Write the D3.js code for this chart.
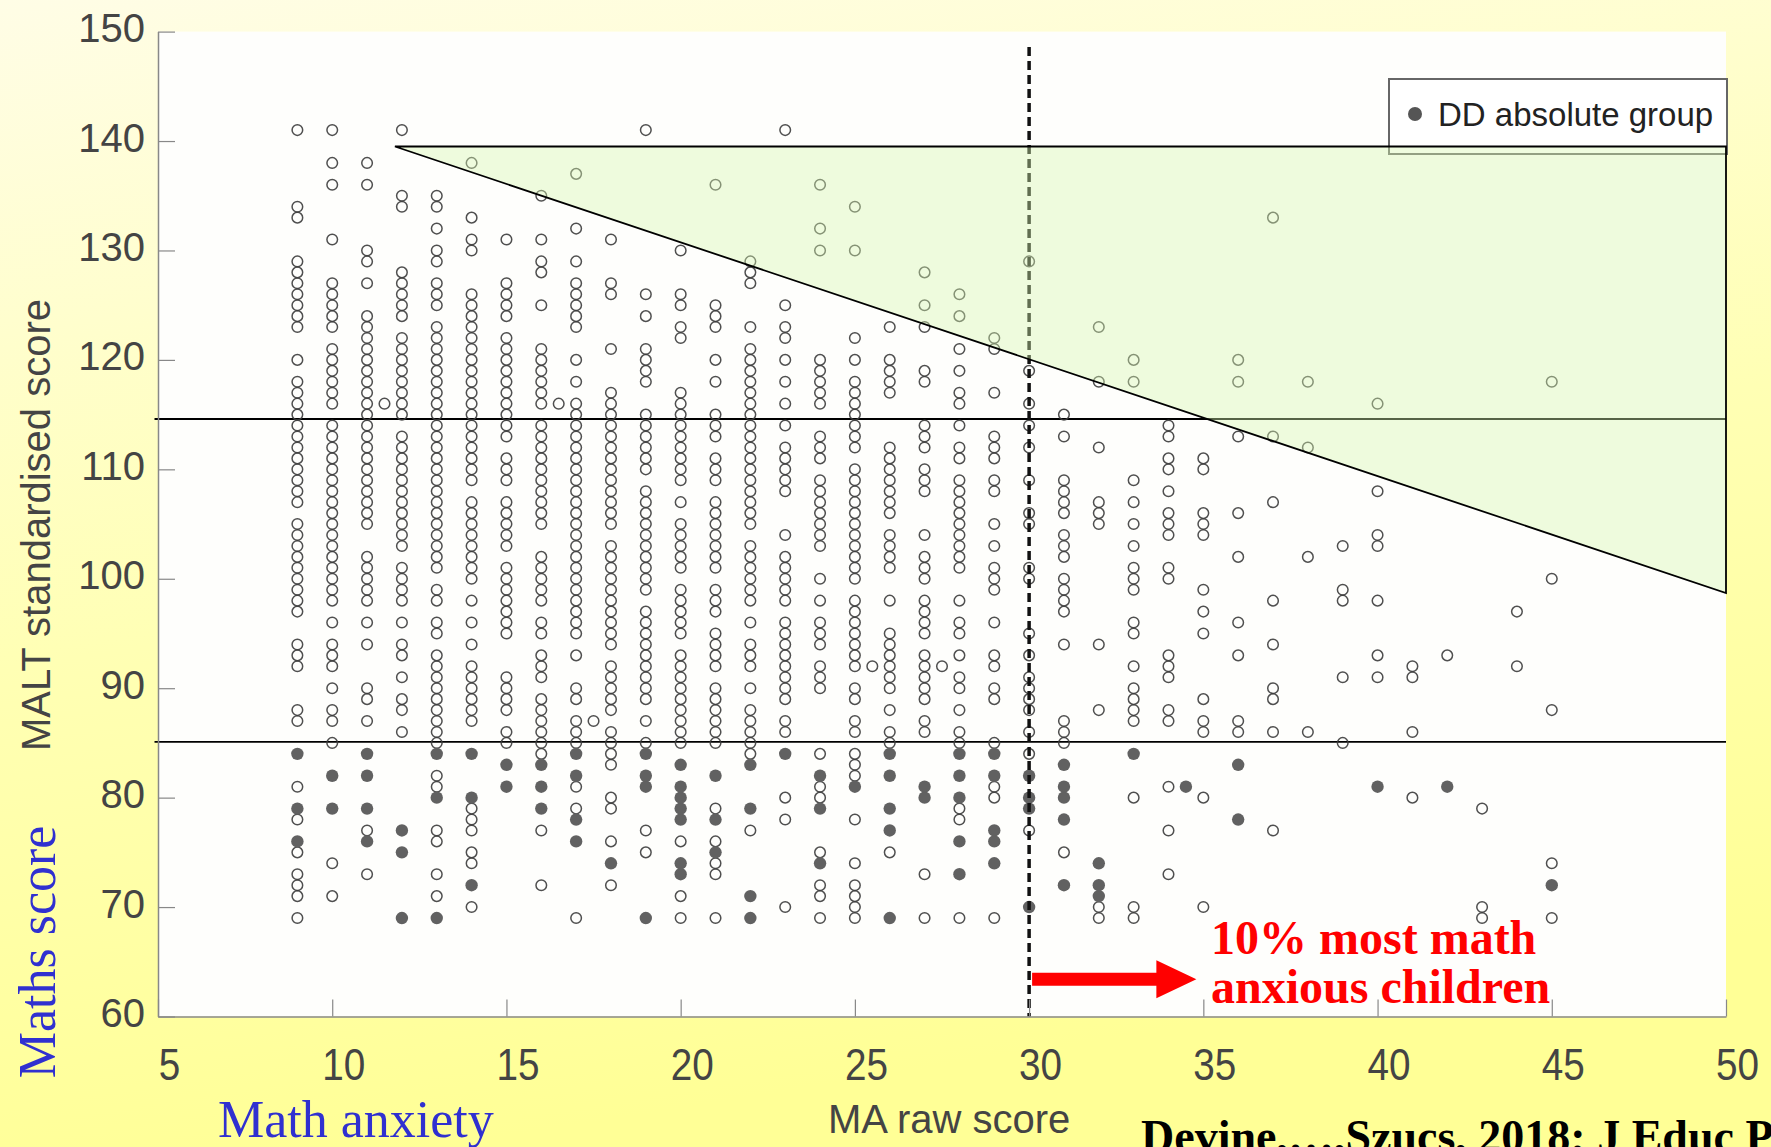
<!DOCTYPE html>
<html>
<head>
<meta charset="utf-8">
<title>Math anxiety vs MALT score</title>
<script src="https://cdn.jsdelivr.net/npm/d3@7/dist/d3.min.js"></script>
<style>
  body { margin: 0; background: #ffff99; }
  svg { display: block; }
</style>
</head>
<body>
<svg width="1771" height="1147"></svg>
<script>
// MA raw score columns
var maScores = [9,10,11,12,13,14,15,16,17,18,19,20,21,22,23,24,25,26,27,28,29,30,31,32,33,34,35,36,37,38,39,40,41,42,43,44,45];

// open circles: every child, one list of MALT scores per MA column
var openScores = [
  [69,71,72,73,75,78,81,87,88,92,93,94,97,98,99,100,101,102,103,104,105,107,108,109,110,111,112,113,114,115,116,117,118,120,123,124,125,126,127,128,129,133,134,141],
  [71,74,85,87,88,90,92,93,94,96,98,99,100,101,102,103,104,105,106,107,108,109,110,111,112,113,114,116,117,118,119,120,121,123,124,125,126,127,131,136,138,141],
  [73,77,87,89,90,94,96,98,99,100,101,102,105,106,107,108,109,110,111,112,113,114,115,116,117,118,119,120,121,122,123,124,127,129,130,136,138],
  [86,88,89,91,93,94,96,98,99,100,101,103,104,105,106,107,108,109,110,111,112,113,115,116,117,118,119,120,121,122,124,125,126,127,128,134,135,141],
  [71,73,76,77,81,82,85,86,87,88,89,90,91,92,93,95,96,98,99,101,102,103,104,105,106,107,108,109,110,111,112,113,114,115,116,117,118,119,120,121,122,123,125,126,127,129,130,132,134,135],
  [70,74,75,77,78,79,87,88,89,90,91,92,94,96,98,100,101,102,103,104,105,106,107,109,110,111,112,113,114,115,116,117,118,119,120,121,122,123,124,125,126,130,131,133,138],
  [85,86,88,89,90,91,95,96,97,98,99,100,101,103,104,105,106,107,109,110,111,113,114,115,116,117,118,119,120,121,122,124,125,126,127,131],
  [72,77,84,85,86,87,88,89,91,92,93,95,96,98,99,100,101,102,105,106,107,108,109,110,111,112,113,114,116,117,118,119,120,121,125,128,129,131,135],
  [69,79,81,85,86,87,89,90,93,95,96,97,98,99,100,101,102,103,104,105,106,107,108,109,110,111,112,113,114,115,116,118,120,123,124,125,126,127,129,132,137],
  [72,76,79,80,83,84,85,86,88,89,90,91,92,94,95,96,97,98,99,100,101,102,103,105,106,107,108,109,110,111,112,113,114,115,116,117,121,126,127,131],
  [75,77,85,87,89,90,91,92,93,94,95,96,97,99,100,101,102,103,104,105,106,107,108,110,111,112,113,114,115,118,119,120,121,124,126,141],
  [69,71,76,85,86,87,88,89,90,91,92,93,95,96,97,98,99,101,102,103,104,105,107,109,110,111,112,113,114,115,116,117,122,123,125,126,130],
  [69,73,74,76,79,85,86,87,88,89,90,92,93,94,95,97,98,99,101,102,103,104,105,106,107,109,110,111,113,114,115,118,120,123,124,125,136],
  [77,84,85,86,87,88,90,92,93,94,96,98,99,100,101,102,103,105,106,107,108,109,110,111,112,113,114,115,116,117,118,119,120,121,123,127,128,129],
  [70,78,80,86,87,89,90,91,92,93,94,95,96,98,99,100,101,102,104,108,109,110,111,112,114,116,118,120,122,123,125,141],
  [69,71,72,75,80,81,84,90,91,92,94,95,96,98,100,103,104,105,106,107,108,109,111,112,113,116,117,118,119,120,130,132,136],
  [69,70,71,72,74,78,82,83,84,86,87,89,90,92,93,94,95,96,97,98,100,101,102,103,104,105,106,107,108,109,110,112,113,114,115,116,117,118,120,122,130,134],
  [75,85,86,88,90,91,92,93,94,95,98,101,102,103,104,106,107,108,109,110,111,112,117,118,119,120,123],
  [69,73,86,87,89,90,91,92,93,95,96,97,98,100,101,102,104,108,109,110,112,113,114,118,119,123,125,128],
  [69,78,79,85,86,88,90,91,93,95,96,98,101,102,103,104,105,106,107,108,109,111,112,114,116,117,119,121,124,126],
  [69,80,81,85,89,90,92,93,96,99,100,101,103,105,108,109,111,112,113,117,121,122],
  [77,84,86,88,89,90,91,93,95,100,101,105,106,109,112,114,116,119,129],
  [75,85,86,87,94,97,98,99,100,102,103,104,106,107,108,109,113,115],
  [69,70,88,94,105,106,107,112,118,123],
  [69,70,80,87,88,89,90,92,95,96,99,100,101,103,105,107,109,118,120],
  [73,77,81,87,88,91,92,93,100,101,104,105,106,108,110,111,113,114],
  [70,80,86,87,89,95,97,99,104,105,106,110,111],
  [86,87,93,96,102,106,113,118,120],
  [77,86,89,90,94,98,107,113,133],
  [86,102,112,118],
  [85,91,98,99,103],
  [91,93,98,103,104,108,116],
  [80,86,91,92],
  [93],
  [69,70,79],
  [92,97],
  [69,74,88,100,118]
];

// filled circles: DD absolute group
var ddScores = [
  [76,79,84],[79,82],[76,79,82,84],[69,75,77],[69,80,84],[72,80,84],[81,83],[79,81,83],[76,78,82,84],
  [74],[69,81,82,84],[73,74,78,79,80,81,83],[75,78,82],[69,71,79,83],[84],[74,79,82],[81],[69,77,79,82,84],
  [80,81],[73,76,80,82,84],[74,76,77,82,84],[70,79,80,82],[72,78,80,81,83],[71,72,74],[84],[],[],
  [78,83],[],[],[],[81],[],[81],[],[],[72]
];

// the few children sitting on half-point MA scores
var halfOpen = [[11.5,116],[16.5,116],[17.5,87],[25.5,92],[27.5,92]];
var halfDD = [[34.5,81]];

// reference lines
var lowCut = 85.1, highCut = 114.6, topCut = 139.5;
var diagFrom = [11.8, 139.5], diagTo = [50, 98.7];
var maCut = 30, maCutTop = 148.6;

var xTicks = [5,10,15,20,25,30,35,40,45,50];
var yTicks = [60,70,80,90,100,110,120,130,140,150];

var svg = d3.select("svg");

var x = d3.scaleLinear().domain([5, 50]).range([158, 1726]);
var y = d3.scaleLinear().domain([60, 150]).range([1016.5, 31.6]);

//background gradient
var defs = svg.append("defs");
var grad = defs.append("linearGradient").attr("id", "bg")
    .attr("x1", 0).attr("y1", 0).attr("x2", 0.25).attr("y2", 1);
grad.append("stop").attr("offset", "0%").attr("stop-color", "#fffde6");
grad.append("stop").attr("offset", "55%").attr("stop-color", "#ffffb4");
grad.append("stop").attr("offset", "100%").attr("stop-color", "#ffff96");

svg.append("rect").attr("width", 1771).attr("height", 1147).attr("fill", "url(#bg)");

//plot area
svg.append("rect")
    .attr("x", x(5)).attr("y", y(150))
    .attr("width", x(50) - x(5)).attr("height", y(60) - y(150))
    .attr("fill", "#fefefc");

//horizontal cut offs
svg.selectAll("line.cut")
  .data([lowCut, highCut])
  .enter().append("line")
    .attr("class", "cut")
    .attr("x1", x(4.9)).attr("x2", x(50))
    .attr("y1", function(d) { return y(d); })
    .attr("y2", function(d) { return y(d); })
    .attr("stroke", "#000").attr("stroke-width", 1.8);

//flatten the columns into points
var openPts = [], ddPts = [];
maScores.forEach(function(m, i) {
  openScores[i].forEach(function(s) { openPts.push([m, s]); });
  ddScores[i].forEach(function(s) { ddPts.push([m, s]); });
});
openPts = openPts.concat(halfOpen);
ddPts = ddPts.concat(halfDD);

svg.append("g").selectAll("circle")
  .data(openPts)
  .enter().append("circle")
    .attr("cx", function(d) { return x(d[0]); })
    .attr("cy", function(d) { return y(d[1]); })
    .attr("r", 5.3)
    .attr("fill", "none")
    .attr("stroke", "#3c3c3c")
    .attr("stroke-opacity", 0.9)
    .attr("stroke-width", 1.5);

svg.append("g").selectAll("circle")
  .data(ddPts)
  .enter().append("circle")
    .attr("cx", function(d) { return x(d[0]); })
    .attr("cy", function(d) { return y(d[1]); })
    .attr("r", 6.2)
    .attr("fill", "#616161");

//dashed MA cut off
svg.append("line")
    .attr("x1", x(maCut)).attr("x2", x(maCut))
    .attr("y1", y(maCutTop)).attr("y2", y(60))
    .attr("stroke", "#111").attr("stroke-width", 3.5)
    .attr("stroke-dasharray", "9,5");

//legend box (under the shaded region)
var legend = svg.append("g").attr("transform", "translate(1389,79)");
legend.append("rect")
    .attr("width", 338).attr("height", 75)
    .attr("fill", "#fff").attr("stroke", "#666").attr("stroke-width", 2);
legend.append("circle").attr("cx", 26).attr("cy", 35).attr("r", 7).attr("fill", "#555");
legend.append("text")
    .attr("x", 49).attr("y", 47)
    .attr("font-family", "'Liberation Sans', Arial, sans-serif")
    .attr("font-size", 33)
    .attr("fill", "#222")
    .text("DD absolute group");

//shaded triangle
var tri = [[diagFrom[0], topCut], [diagTo[0], topCut], [diagTo[0], diagTo[1]]];
svg.append("path")
    .attr("d", d3.line().x(function(d) { return x(d[0]); }).y(function(d) { return y(d[1]); })(tri) + "Z")
    .attr("fill", "#d8f7b0").attr("fill-opacity", 0.4)
    .attr("stroke", "#000").attr("stroke-width", 1.8);

//axes
var yAxis = svg.append("g")
    .attr("transform", "translate(" + x(5) + ",0)")
    .call(d3.axisLeft(y).tickValues(yTicks).tickSize(-17).tickSizeOuter(0).tickPadding(13));
var xAxis = svg.append("g")
    .attr("transform", "translate(0," + y(60) + ")")
    .call(d3.axisBottom(x).tickValues(xTicks).tickSize(-17).tickSizeOuter(0).tickPadding(32));

[yAxis, xAxis].forEach(function(a) {
  a.select(".domain").attr("stroke", "#888").attr("stroke-width", 1.5);
  a.selectAll(".tick line").attr("stroke", "#888").attr("stroke-width", 1.2);
  a.selectAll(".tick text")
    .attr("font-family", "'Liberation Sans', Arial, sans-serif")
    .attr("font-size", 40)
    .attr("fill", "#444");
});
yAxis.selectAll(".tick text").attr("dy", "0.25em");
//x labels in the original are narrow and sit a little right of their ticks
xAxis.selectAll(".tick text")
    .attr("font-size", 45)
    .attr("transform", "translate(11,0) scale(0.86,1)");

//red arrow
var ay = y(63.4), ax0 = x(maCut) + 3, ax1 = x(34.8);
svg.append("path")
    .attr("d", "M" + ax0 + "," + (ay - 6.5) + "L" + (ax1 - 40) + "," + (ay - 6.5) +
               "L" + (ax1 - 40) + "," + (ay - 19) + "L" + ax1 + "," + ay +
               "L" + (ax1 - 40) + "," + (ay + 19) + "L" + (ax1 - 40) + "," + (ay + 6.5) +
               "L" + ax0 + "," + (ay + 6.5) + "Z")
    .attr("fill", "#ff0000");

var red = svg.append("text")
    .attr("font-family", "'Liberation Serif', 'Times New Roman', serif")
    .attr("font-weight", "bold")
    .attr("font-size", 48)
    .attr("fill", "#ff0000");
red.append("tspan").attr("x", 1211).attr("y", 954).text("10% most math");
red.append("tspan").attr("x", 1211).attr("y", 1003).text("anxious children");

//axis titles
svg.append("text")
    .attr("transform", "translate(50,525) rotate(-90)")
    .attr("text-anchor", "middle")
    .attr("font-family", "'Liberation Sans', Arial, sans-serif")
    .attr("font-size", 40)
    .attr("fill", "#444")
    .text("MALT standardised score");

svg.append("text")
    .attr("transform", "translate(55,952) rotate(-90)")
    .attr("text-anchor", "middle")
    .attr("font-family", "'Liberation Serif', 'Times New Roman', serif")
    .attr("font-size", 52)
    .attr("fill", "#3030d0")
    .text("Maths score");

svg.append("text")
    .attr("x", 218).attr("y", 1137)
    .attr("font-family", "'Liberation Serif', 'Times New Roman', serif")
    .attr("font-size", 52)
    .attr("fill", "#3030d0")
    .text("Math anxiety");

svg.append("text")
    .attr("x", 828).attr("y", 1133)
    .attr("font-family", "'Liberation Sans', Arial, sans-serif")
    .attr("font-size", 40)
    .attr("fill", "#444")
    .text("MA raw score");

//citation runs off the bottom edge in the original slide
svg.append("text")
    .attr("x", 1141).attr("y", 1152)
    .attr("font-family", "'Liberation Serif', 'Times New Roman', serif")
    .attr("font-weight", "bold")
    .attr("font-size", 46)
    .attr("fill", "#000")
    .text("Devine,…,Szucs, 2018; J Educ Psychol");
</script>
</body>
</html>
